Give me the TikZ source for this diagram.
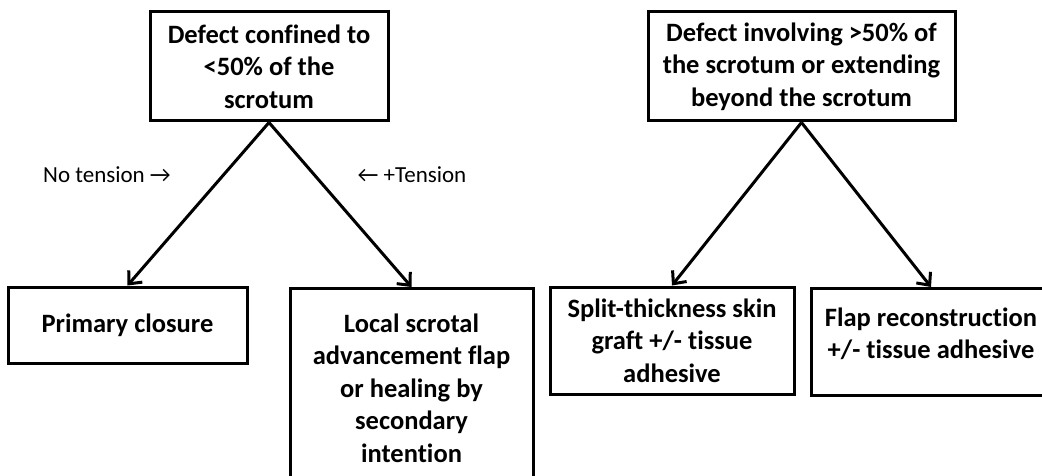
\documentclass[tikz,border=0pt]{standalone}
\usepackage{fontspec}
\setmainfont{Carlito}[Ligatures=NoCommon]
\usetikzlibrary{arrows.meta}
\begin{document}
\begin{tikzpicture}[x=1pt,y=-1pt,
  txt/.style={align=center, font=\fontsize{26.5}{32.5}\selectfont\bfseries},
  box/.style={txt, draw, line width=3pt, inner sep=0pt},
  conn/.style={line width=3pt, -{Straight Barb[length=10pt,width=18pt,line width=3pt]}},
  lbl/.style={font=\fontsize{23}{27}\selectfont, inner sep=0pt}]
\useasboundingbox (0,0) rectangle (1042,476);
\clip (0,0) rectangle (1042,476);
\node[box, minimum width=238pt, minimum height=109pt] (a) at (269,66.5)
  {Defect confined to\\<50\% of the\\scrotum};
\node[box, minimum width=307pt, minimum height=109pt] (b) at (801.5,66.5)
  {Defect involving >50\% of\\the scrotum or extending\\beyond the scrotum};
\node[box, minimum width=239pt, minimum height=76pt] (c) at (127.5,325)
  {Primary closure};
\node[box, minimum width=243pt, minimum height=230pt, anchor=north] (d) at (411.5,287) {};
\node[txt, anchor=north] (dt) at (411.5,310)
  {Local scrotal\\advancement flap\\or healing by\\secondary\\intention};
\node[box, minimum width=244pt, minimum height=107pt] (e) at (672,340.5)
  {Split-thickness skin\\graft +/- tissue\\adhesive};
\node[box, minimum width=260pt, minimum height=107pt, anchor=north west] (f) at (810,287) {};
\node[txt] (ft) at (931,334)
  {Flap reconstruction\\+/- tissue adhesive};
\node[lbl] (l1) at (107,175) {No tension \symbol{"2192}};
\node[lbl] (l2) at (412,175) {\symbol{"2190} +Tension};
\draw[conn] (a.south) -- (c.north);
\draw[conn] (a.south) -- (d.north);
\draw[conn] (b.south) -- (e.north);
\draw[conn] (b.south) -- (ft.north |- f.north);
\end{tikzpicture}
\end{document}
